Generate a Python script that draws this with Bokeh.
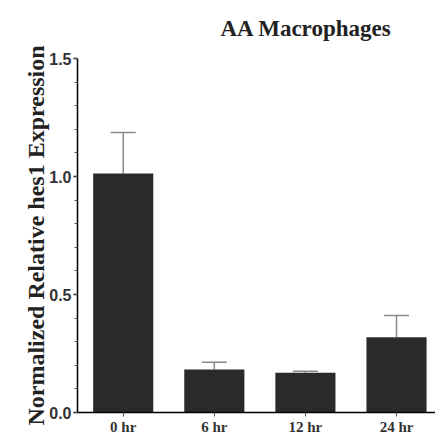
from bokeh.plotting import figure
from bokeh.models import Range1d, FixedTicker, Whisker, ColumnDataSource, TeeHead
from bokeh.embed import file_html
from bokeh.resources import INLINE

# ---- data ----
categories = ["0 hr", "6 hr", "12 hr", "24 hr"]
values = [1.013, 0.182, 0.168, 0.319]
upper_err = [1.186, 0.213, 0.175, 0.411]
y_ticks = [0.0, 0.5, 1.0, 1.5]
y_tick_labels = ["0.0", "0.5", "1.0", "1.5"]
title_text = "AA Macrophages"
ylabel_text = "Normalized Relative hes1 Expression"

xs = list(range(len(categories)))
src = ColumnDataSource(dict(x=xs, top=values, upper=upper_err))

p = figure(width=435, height=439, output_backend="svg", toolbar_location=None,
           x_range=Range1d(-0.502, 3.428), y_range=Range1d(0, 1.5),
           min_border_left=77, min_border_right=0, min_border_top=58, min_border_bottom=27)
p.background_fill_color = "white"
p.border_fill_color = "white"
p.outline_line_color = None
p.xgrid.visible = False
p.ygrid.visible = False

# title
p.title.text = title_text
p.title.align = "left"
p.title.vertical_align = "top"
p.title.offset = 143
p.title.standoff = 31
p.title.text_font = "Liberation Serif"
p.title.text_font_style = "bold"
p.title.text_font_size = "23px"
p.title.text_color = "#222222"

p.vbar(x="x", top="top", bottom=0, width=0.66, source=src,
       fill_color="#2a2a2a", line_color=None)

wh = Whisker(base="x", lower="top", upper="upper", source=src,
             line_color="#8a8a8a", line_width=1.5,
             upper_head=TeeHead(size=25, line_color="#8a8a8a", line_width=1.5),
             lower_head=None)
p.add_layout(wh)

# axes
yax = p.yaxis[0]
yax.ticker = FixedTicker(ticks=y_ticks, minor_ticks=[i / 10 for i in range(16)])
yax.major_label_overrides = {t: l for t, l in zip(y_ticks, y_tick_labels)}
yax.major_label_text_font = "Liberation Sans"
yax.major_label_text_font_style = "bold"
yax.major_label_text_font_size = "16px"
yax.major_label_text_color = "#333333"
yax.major_label_standoff = 2
yax.major_tick_out = 4
yax.major_tick_in = 0
yax.minor_tick_out = 3
yax.minor_tick_in = 0
yax.axis_line_width = 1.5
yax.axis_line_color = "black"
yax.major_tick_line_width = 1.5
yax.minor_tick_line_color = "#555555"
yax.axis_label = ylabel_text
yax.axis_label_text_font = "Liberation Serif"
yax.axis_label_text_font_style = "bold"
yax.axis_label_text_font_size = "24px"
yax.axis_label_text_color = "#222222"
yax.axis_label_standoff = -3

xax = p.xaxis[0]
xax.ticker = FixedTicker(ticks=xs)
xax.major_label_overrides = {x: c for x, c in zip(xs, categories)}
xax.major_label_text_font = "Liberation Serif"
xax.major_label_text_font_style = "bold"
xax.major_label_text_font_size = "15px"
xax.major_label_text_color = "#333333"
xax.major_label_standoff = 2
xax.major_tick_out = 4
xax.major_tick_in = 0
xax.minor_tick_line_color = None
xax.axis_line_width = 1.5
xax.axis_line_color = "black"
xax.major_tick_line_color = "#555555"

open("out.html", "w").write(file_html(p, INLINE))
